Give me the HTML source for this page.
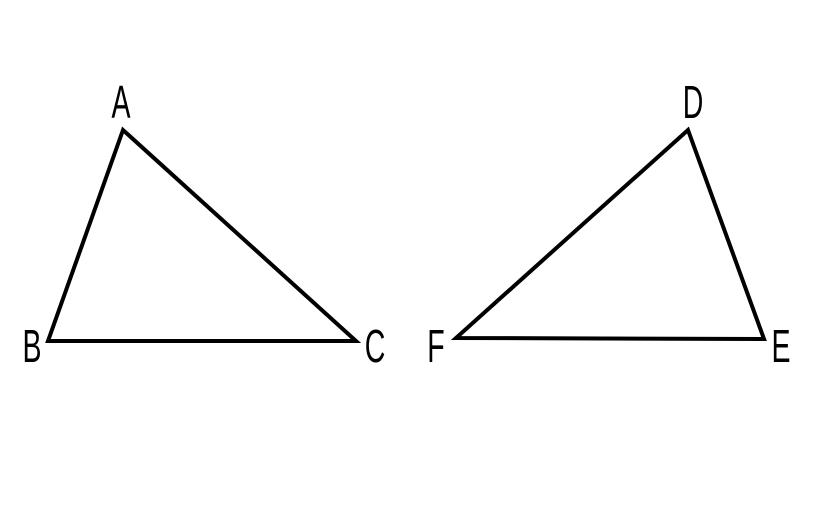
<!DOCTYPE html>
<html><head><style>body{margin:0;background:#fff}</style></head><body>
<svg width="814" height="500" xmlns="http://www.w3.org/2000/svg">
<g fill="none" stroke="#000" stroke-width="4" stroke-linejoin="miter">
<polygon points="123,130 48,341 356,341"/>
<polygon points="688,130 764,339 456,338"/>
</g>
<g font-family="Liberation Sans, sans-serif" font-size="46" fill="#000" text-anchor="middle">
<text transform="translate(121,118) scale(0.62,1)">A</text>
<text transform="translate(32,362) scale(0.62,1)">B</text>
<text transform="translate(375,362) scale(0.62,1)">C</text>
<text transform="translate(436,362) scale(0.62,1)">F</text>
<text transform="translate(693,118) scale(0.62,1)">D</text>
<text transform="translate(781,362) scale(0.62,1)">E</text>
</g>
</svg>
</body></html>
